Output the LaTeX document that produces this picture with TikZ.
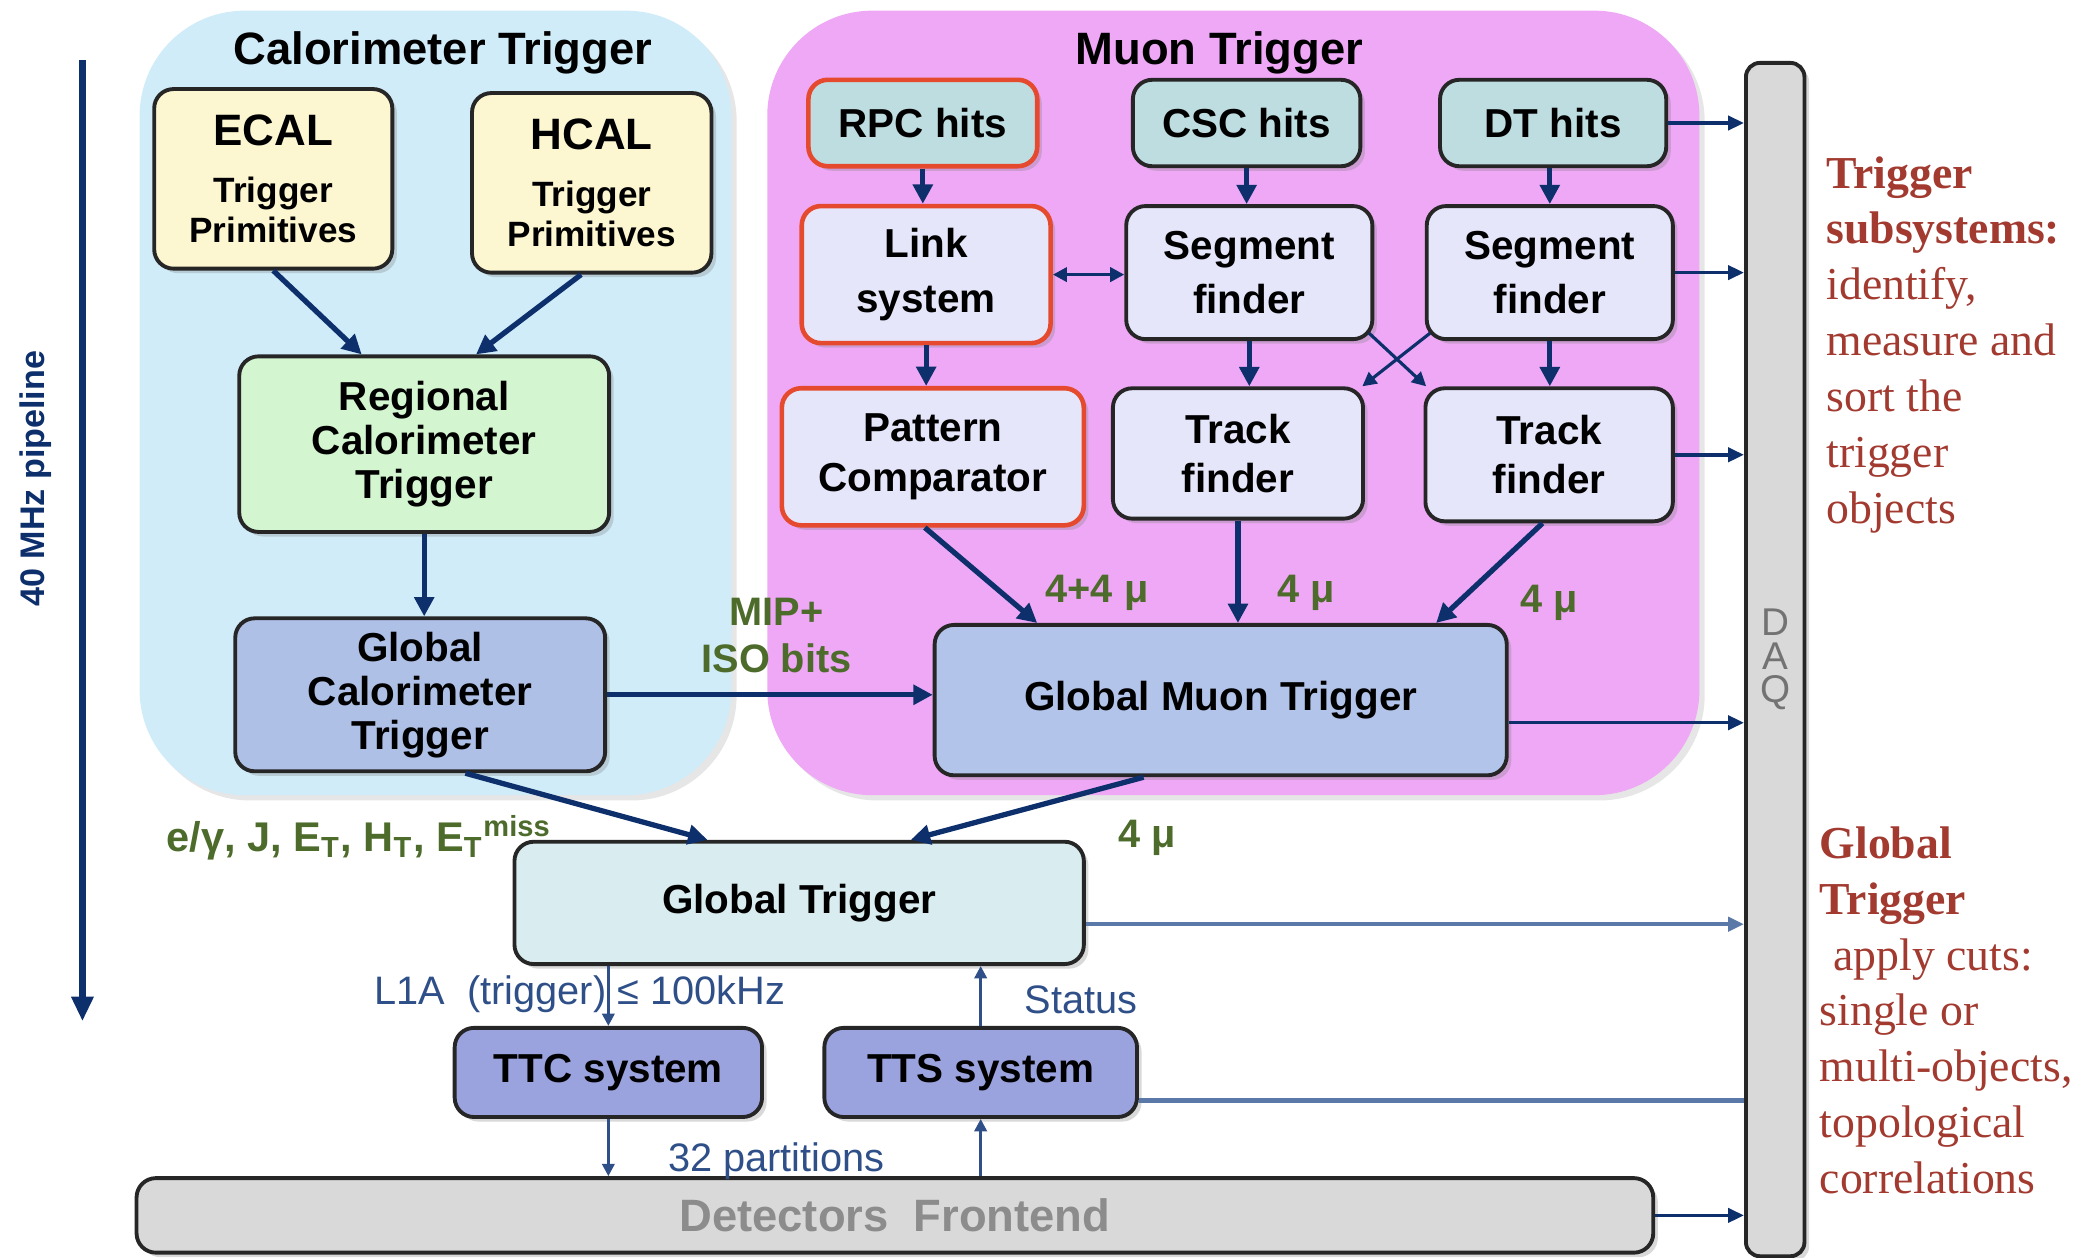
\documentclass[tikz,border=0pt]{standalone}
\usepackage{fontspec}
\setmainfont{Liberation Sans}
\newfontfamily\notefont{Liberation Serif}
\usepackage{tikz}
\usetikzlibrary{arrows.meta}
\usetikzlibrary{calc}
\usetikzlibrary{shadows}

\definecolor{calobg}{HTML}{D0ECF9}
\definecolor{muonbg}{HTML}{EEA8F5}
\definecolor{primyel}{HTML}{FCF7D1}
\definecolor{rctgreen}{HTML}{D3F5CF}
\definecolor{gctblue}{HTML}{AFC0E7}
\definecolor{hitsteal}{HTML}{BEDDE1}
\definecolor{muonbox}{HTML}{E5E6FA}
\definecolor{gmtblue}{HTML}{B2C4E9}
\definecolor{gtcyan}{HTML}{D9ECEF}
\definecolor{ttsblue}{HTML}{9BA3DF}
\definecolor{daqgray}{HTML}{D9D9D9}
\definecolor{navy}{HTML}{0D2F6B}
\definecolor{steel}{HTML}{5A78A8}
\definecolor{ctrlblue}{HTML}{2F4F88}
\definecolor{lblgreen}{HTML}{4D6B2B}
\definecolor{notered}{HTML}{A23A30}
\definecolor{redline}{HTML}{E64A2E}

\begin{document}
\begin{tikzpicture}[x=0.013297cm, y=-0.013297cm,
    box/.style={draw=black!85, line width=1.1pt, rounded corners=5.5pt, align=center, inner sep=1pt,
      font=\bfseries\fontsize{11.5}{12.5}\selectfont,
      drop shadow={shadow xshift=1.3pt, shadow yshift=-1.3pt, opacity=0.3}},
    redbox/.style={box, draw=redline, line width=1.3pt},
    region/.style={rounded corners=1.05cm, drop shadow={shadow xshift=1.5pt, shadow yshift=-1.5pt, opacity=0.2}},
    heading/.style={font=\bfseries\fontsize{12.9}{14}\selectfont},
    flow/.style={draw=navy, line width=1.5pt, -{Triangle[length=5.5pt,width=5.5pt]}},
    dflow/.style={draw=navy, line width=1pt, {Triangle[length=4pt,width=4pt]}-{Triangle[length=4pt,width=4pt]}},
    xflow/.style={draw=navy, line width=0.9pt, -{Triangle[length=4pt,width=4pt]}},
    daqline/.style={draw=navy, line width=1pt, -{Triangle[length=4.5pt,width=4pt]}},
    gtline/.style={draw=steel, line width=1.3pt, -{Triangle[length=4.5pt,width=4pt]}},
    ttsline/.style={draw=steel, line width=1.3pt},
    ctrl/.style={draw=ctrlblue, line width=0.8pt, -{Triangle[length=3.5pt,width=3.5pt]}},
    pipe/.style={draw=navy, line width=2pt, -{Triangle[length=7pt,width=6pt]}},
    lbl/.style={text=lblgreen, font=\bfseries\fontsize{11.3}{13.2}\selectfont, align=center},
    sig/.style={text=ctrlblue, font=\fontsize{11.3}{12}\selectfont},
    note/.style={text=notered, font=\notefont\fontsize{13}{15.9}\selectfont, align=left, anchor=north west, inner sep=0pt}]

    \useasboundingbox (0,0) rectangle (1568,946);

    % trigger subsystem areas
    \path[region, fill=calobg] (105,8) rectangle (550,598);
    \path[region, fill=muonbg] (577,8) rectangle (1278,598);
    \node (calotitle) [heading] at (333,40) {Calorimeter Trigger};
    \node (muontitle) [heading] at (917,40) {Muon Trigger};

    % calorimeter trigger
    \node (ecal) [box, fill=primyel, minimum width=2.38cm, minimum height=1.795cm, font=\bfseries\fontsize{10}{11.3}\selectfont] at (205.5,134.5) {{\fontsize{12.5}{14}\selectfont ECAL}\\[5pt]Trigger\\Primitives};
    \node (hcal) [box, fill=primyel, minimum width=2.393cm, minimum height=1.795cm, font=\bfseries\fontsize{10}{11.3}\selectfont] at (445,137.5) {{\fontsize{12.5}{14}\selectfont HCAL}\\[5pt]Trigger\\Primitives};
    \node (rct) [box, fill=rctgreen, minimum width=3.697cm, minimum height=1.755cm] at (319,334) {Regional\\Calorimeter\\Trigger};
    \node (gct) [box, fill=gctblue, minimum width=3.697cm, minimum height=1.529cm] at (316,522.5) {Global\\Calorimeter\\Trigger};

    % muon trigger
    \node (rpc) [redbox, fill=hitsteal, minimum width=2.287cm, minimum height=0.864cm] at (694,92.5) {RPC hits};
    \node (csc) [box, fill=hitsteal, minimum width=2.274cm, minimum height=0.864cm] at (937.5,92.5) {CSC hits};
    \node (dt) [box, fill=hitsteal, minimum width=2.261cm, minimum height=0.864cm] at (1168,92.5) {DT hits};
    \node (link) [redbox, fill=muonbox, minimum width=2.487cm, minimum height=1.37cm] at (696.5,206.5) {Link\\[3pt]system};
    \node (seg1) [box, fill=muonbox, minimum width=2.46cm, minimum height=1.33cm] at (939.5,205) {Segment\\[3pt]finder};
    \node (seg2) [box, fill=muonbox, minimum width=2.46cm, minimum height=1.33cm] at (1165.5,205) {Segment\\[3pt]finder};
    \node (pat) [redbox, fill=muonbox, minimum width=3.018cm, minimum height=1.37cm] at (701.5,343.5) {Pattern\\[1.5pt]Comparator};
    \node (trk1) [box, fill=muonbox, minimum width=2.5cm, minimum height=1.303cm] at (931,341) {Track\\[1.5pt]finder};
    \node (trk2) [box, fill=muonbox, minimum width=2.473cm, minimum height=1.33cm] at (1165,342) {Track\\[1.5pt]finder};
    \node (gmt) [box, fill=gmtblue, minimum width=5.718cm, minimum height=1.503cm] at (918,526.5) {Global Muon Trigger};

    % global trigger and control
    \node (gt) [box, fill=gtcyan, minimum width=5.691cm, minimum height=1.223cm] at (601,679) {Global Trigger};
    \node (ttc) [box, fill=ttsblue, minimum width=3.072cm, minimum height=0.891cm] at (457.5,806.5) {TTC system};
    \node (tts) [box, fill=ttsblue, minimum width=3.125cm, minimum height=0.891cm] at (737.5,806.5) {TTS system};
    \node (fe) [box, fill=daqgray, minimum width=15.159cm, minimum height=0.745cm, text=black!45, font=\bfseries\fontsize{12.9}{14}\selectfont] at (673,914) {Detectors\ \ Frontend};
    \node (daq) [box, fill=daqgray, minimum width=0.585cm, minimum height=11.927cm, rounded corners=4pt, text=black!55, font=\fontsize{11}{9.5}\selectfont] at (1335,496) {D\\A\\Q};

    % pipeline
    \coordinate (pipetop) at (62,45);
    \coordinate (pipebot) at (62,768);
    \draw[pipe] (pipetop) -- (pipebot);
    \node (pipetext) [rotate=90, text=navy, font=\bfseries\fontsize{9.7}{11}\selectfont] at (27,360) {40 MHz pipeline};

    % calorimeter data flow
    \draw[flow] (ecal.south) -- ($(rct.north)+(-47,0)$);
    \draw[flow] ($(hcal.south)+(-8,0)$) -- ($(rct.north)+(39,0)$);
    \draw[flow] (rct.south) -- (rct.south |- gct.north);
    \draw[flow] (gct.east) -- (gct.east -| gmt.west);
    \draw[flow] ($(gct.south)+(34,0)$) -- ($(gt.north)+(-69,0)$);

    % muon data flow
    \draw[flow] (rpc.south) -- (rpc.south |- link.north);
    \draw[flow] (csc.south) -- (csc.south |- seg1.north);
    \draw[flow] (seg2.north |- dt.south) -- (seg2.north);
    \draw[dflow] (link.east) -- (link.east -| seg1.west);
    \draw[flow] (link.south) -- (link.south |- pat.north);
    \draw[flow] (seg1.south) -- (seg1.south |- trk1.north);
    \draw[flow] (seg2.south) -- (seg2.south |- trk2.north);
    \draw[xflow] ($(seg1.south east)+(-4,-6)$) -- ($(trk2.north west)+(2,0)$);
    \draw[xflow] ($(seg2.south west)+(4,-6)$) -- ($(trk1.north east)+(-2,0)$);
    \draw[flow] ($(pat.south)+(-6,0)$) -- ($(gmt.north)+(-138,0)$);
    \draw[flow] (trk1.south) -- (trk1.south |- gmt.north);
    \draw[flow] ($(trk2.south)+(-5,0)$) -- ($(gmt.north)+(162,0)$);
    \draw[flow] ($(gmt.south)+(-58,0)$) -- ($(gt.north)+(84,0)$);

    % readout into DAQ
    \draw[daqline] (dt.east) -- (dt.east -| daq.west);
    \draw[daqline] (seg2.east) -- (seg2.east -| daq.west);
    \draw[daqline] (trk2.east) -- (trk2.east -| daq.west);
    \draw[daqline] ($(gmt.east)+(0,17)$) -- ($(gmt.east -| daq.west)+(0,17)$);
    \draw[gtline] ($(gt.east)+(0,16)$) -- ($(gt.east -| daq.west)+(0,16)$);
    \draw[ttsline] ($(tts.east)+(0,21)$) -- ($(tts.east -| daq.west)+(0,21)$);
    \draw[daqline] (fe.east) -- (fe.east -| daq.west);

    % timing and control
    \draw[ctrl] (gt.south -| ttc.north) -- (ttc.north);
    \draw[ctrl] (tts.north) -- (tts.north |- gt.south);
    \draw[ctrl] (ttc.south) -- (ttc.south |- fe.north);
    \draw[ctrl] (tts.south |- fe.north) -- (tts.south);

    % labels
    \node (mipiso) [lbl] at (584,478) {MIP+\\ISO bits};
    \node (calobj) [lbl, anchor=west, font=\bfseries\fontsize{11.8}{13}\selectfont] at (116,630) {e/γ, J, E\textsubscript{T}, H\textsubscript{T}, E\textsubscript{T}\textsuperscript{miss}};
    \node (mu44) [lbl] at (825,446) {4+4 μ};
    \node (mu1) [lbl] at (982,446) {4 μ};
    \node (mu2) [lbl] at (1165,453) {4 μ};
    \node (mugt) [lbl] at (863,630) {4 μ};
    \node (l1a) [sig] at (436,748) {L1A\ \ (trigger) ≤ 100kHz};
    \node (status) [sig] at (813,752) {Status};
    \node (parts) [sig] at (584,873) {32 partitions};

    \node (subnote) [note] at (1373,117) {\textbf{Trigger}\\\textbf{subsystems:}\\identify,\\measure and\\sort the\\trigger\\objects};
    \node (gtnote) [note] at (1368,621) {\textbf{Global}\\\textbf{Trigger}\\\hspace*{0.3em}apply cuts:\\single or\\multi-objects,\\topological\\correlations};

\end{tikzpicture}
\end{document}
